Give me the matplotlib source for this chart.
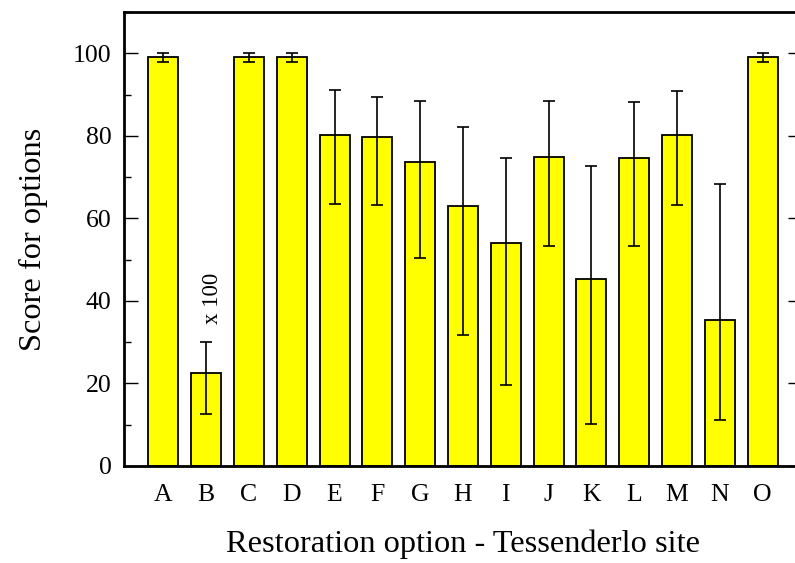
import numpy as np
import matplotlib
matplotlib.use('Agg')
import matplotlib.pyplot as plt
from matplotlib.ticker import MultipleLocator

# restoration options and scores (B is scaled x 100)
options = ['A', 'B', 'C', 'D', 'E', 'F', 'G', 'H', 'I', 'J', 'K', 'L', 'M', 'N', 'O']
scores = [99, 22.5, 99, 99, 80.3, 79.6, 73.7, 62.9, 54.0, 74.8, 45.2, 74.6, 80.1, 35.4, 99]
err_low = [98, 12.6, 98, 98, 63.5, 63.3, 50.5, 31.7, 19.7, 53.2, 10.2, 53.4, 63.3, 11.2, 98]
err_high = [100, 30.0, 100, 100, 91.1, 89.5, 88.4, 82.1, 74.7, 88.5, 72.7, 88.3, 90.9, 68.4, 100]

plt.rcParams['font.family'] = ['Liberation Serif', 'DejaVu Serif']

fig = plt.figure(figsize=(7.95, 5.63), dpi=100)
ax = fig.add_axes([124/795, 1 - 466/563, (802-124)/795, (466-12)/563])

x = np.arange(len(options))
s = np.array(scores)
yerr = [s - np.array(err_low), np.array(err_high) - s]
ax.bar(x, s, width=0.7, color='#ffff00', edgecolor='black', linewidth=1.3, zorder=2)
ax.errorbar(x, s, yerr=yerr, fmt='none', ecolor='black', elinewidth=1.2,
            capsize=4, capthick=1.2, zorder=3)

ax.text(1.15, 40.5, 'x 100', rotation=90, ha='center', va='center', fontsize=16.5)

ax.set_xlim(-0.92, 14.92)
ax.set_ylim(0, 110)
ax.set_xticks(x)
ax.set_xticklabels(options, fontsize=18.5)
ax.tick_params(axis='x', length=0, pad=13)
ax.yaxis.set_major_locator(MultipleLocator(20))
ax.yaxis.set_minor_locator(MultipleLocator(10))
ax.tick_params(axis='y', which='major', direction='in', length=10, width=1, right=True, labelsize=18.5, pad=9)
ax.tick_params(axis='y', which='minor', direction='in', length=5, width=1, right=True)

for sp in ax.spines.values():
    sp.set_linewidth(2)

ax.set_xlabel('Restoration option - Tessenderlo site', fontsize=23.3, labelpad=17)
ax.set_ylabel('Score for options', fontsize=23.3, labelpad=18)

fig.savefig('out.png', dpi=100)
